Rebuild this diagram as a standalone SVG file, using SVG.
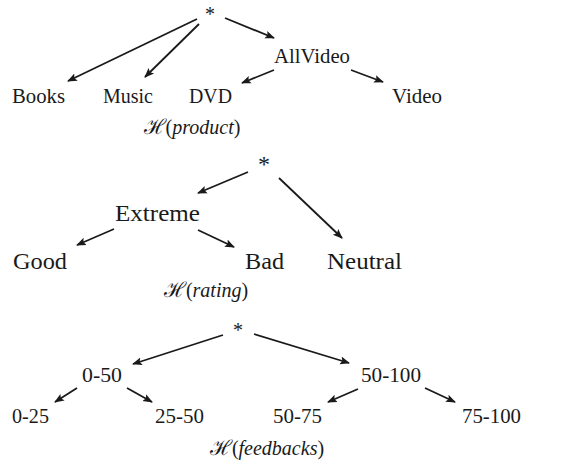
<svg xmlns="http://www.w3.org/2000/svg" width="578" height="470" viewBox="0 0 578 470">
<style>
text{font-family:"Liberation Serif","Times New Roman",serif;fill:#1a1a1a;text-anchor:middle}
.s{font-size:20px}
.m{font-size:24px}
.cap{font-size:20px;font-style:italic}
.h{font-family:"DejaVu Serif",serif;font-style:normal;font-size:21px}
#edges line{stroke:#1a1a1a;stroke-width:1.8;marker-end:url(#ah)}
</style>
<defs>
<marker id="ah" viewBox="0 0 10 10" refX="9" refY="5" markerWidth="5.5" markerHeight="5.5" orient="auto" markerUnits="strokeWidth">
<path d="M0,1 L10,5 L0,9 L2,5 Z" fill="#1a1a1a"/>
</marker>
</defs>
<rect width="578" height="470" fill="#fff"/>
<g id="edges">
<line x1="197" y1="19" x2="68" y2="81"/>
<line x1="199" y1="24" x2="145" y2="77"/>
<line x1="225" y1="18" x2="274" y2="38"/>
<line x1="274" y1="70" x2="242" y2="83"/>
<line x1="351" y1="70" x2="383" y2="82"/>
<line x1="248" y1="172" x2="198" y2="193"/>
<line x1="279" y1="178" x2="342" y2="238"/>
<line x1="114" y1="229" x2="77" y2="245"/>
<line x1="198" y1="230" x2="234" y2="247"/>
<line x1="223" y1="335" x2="133" y2="364"/>
<line x1="254" y1="334" x2="349" y2="363"/>
<line x1="77" y1="388" x2="55" y2="402"/>
<line x1="127" y1="388" x2="152" y2="402"/>
<line x1="358" y1="389" x2="328" y2="402"/>
<line x1="425" y1="388" x2="455" y2="402"/>
</g>
<g id="p-root"><text class="s" x="210" y="21">*</text></g>
<g id="p-allvideo"><text class="s" x="312" y="63" textLength="76" lengthAdjust="spacingAndGlyphs">AllVideo</text></g>
<g id="p-books"><text class="s" x="38.5" y="103" textLength="53" lengthAdjust="spacingAndGlyphs">Books</text></g>
<g id="p-music"><text class="s" x="128" y="103" textLength="50" lengthAdjust="spacingAndGlyphs">Music</text></g>
<g id="p-dvd"><text class="s" x="210.5" y="103" textLength="43" lengthAdjust="spacingAndGlyphs">DVD</text></g>
<g id="p-video"><text class="s" x="417" y="103" textLength="50" lengthAdjust="spacingAndGlyphs">Video</text></g>
<g id="cap-product"><text class="cap" x="192" y="134"><tspan class="h">ℋ</tspan><tspan font-style="normal">(</tspan>product<tspan font-style="normal">)</tspan></text></g>

<g id="r-root"><text class="m" x="264" y="172">*</text></g>
<g id="r-extreme"><text class="m" x="157.5" y="221" textLength="85" lengthAdjust="spacingAndGlyphs">Extreme</text></g>
<g id="r-good"><text class="m" x="40" y="269" textLength="54" lengthAdjust="spacingAndGlyphs">Good</text></g>
<g id="r-bad"><text class="m" x="264.5" y="269" textLength="39" lengthAdjust="spacingAndGlyphs">Bad</text></g>
<g id="r-neutral"><text class="m" x="364.5" y="269" textLength="75" lengthAdjust="spacingAndGlyphs">Neutral</text></g>
<g id="cap-rating"><text class="cap" x="206" y="297"><tspan class="h">ℋ</tspan><tspan font-style="normal">(</tspan>rating<tspan font-style="normal">)</tspan></text></g>

<g id="f-root"><text class="s" x="238" y="337">*</text></g>
<g id="f-0-50"><text class="s" x="102" y="382" textLength="40" lengthAdjust="spacingAndGlyphs">0-50</text></g>
<g id="f-50-100"><text class="s" x="391" y="382" textLength="60" lengthAdjust="spacingAndGlyphs">50-100</text></g>
<g id="f-0-25"><text class="s" x="30.5" y="423" textLength="37" lengthAdjust="spacingAndGlyphs">0-25</text></g>
<g id="f-25-50"><text class="s" x="179.5" y="423" textLength="49" lengthAdjust="spacingAndGlyphs">25-50</text></g>
<g id="f-50-75"><text class="s" x="297.5" y="423" textLength="49" lengthAdjust="spacingAndGlyphs">50-75</text></g>
<g id="f-75-100"><text class="s" x="491.5" y="423" textLength="59" lengthAdjust="spacingAndGlyphs">75-100</text></g>
<g id="cap-feedbacks"><text class="cap" x="267" y="455"><tspan class="h">ℋ</tspan><tspan font-style="normal">(</tspan>feedbacks<tspan font-style="normal">)</tspan></text></g>
</svg>
